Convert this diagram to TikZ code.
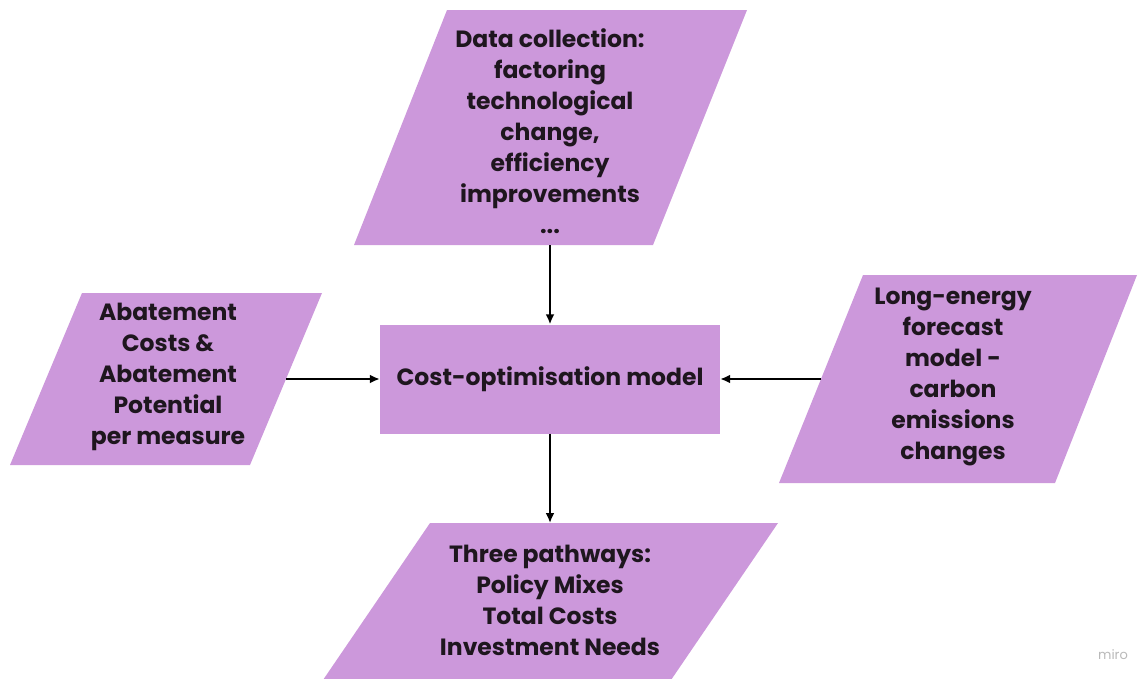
\documentclass[tikz,border=0pt]{standalone}
\usepackage{fontspec}
\setmainfont{Poppins}
\usetikzlibrary{arrows.meta}
\definecolor{boxfill}{RGB}{204,152,219}
\definecolor{ink}{RGB}{30,22,30}
\definecolor{logogray}{RGB}{185,185,185}
\begin{document}
\begin{tikzpicture}[x=1pt,y=-1pt,
  shapefill/.style={fill=boxfill, draw=none},
  boxtext/.style={font=\bfseries\fontsize{23.5}{31}\selectfont, text=ink, align=center, inner sep=0pt},
  arr/.style={-{Latex[length=10pt,width=9pt]}, line width=2pt, black}]
\useasboundingbox (0,0) rectangle (1145,678);

% input: data collection (top)
\path[shapefill] (447,10) -- (747,10) -- (653,245) -- (354,245) -- cycle;
\coordinate (dataB) at (550,245);
\node[boxtext] (data) at (550,131) {Data collection:\\factoring\\technological\\change,\\efficiency\\improvements\\...};

% input: abatement (left)
\path[shapefill] (82,293) -- (322,293) -- (250,465) -- (10,465) -- cycle;
\coordinate (abateR) at (286,379);
\node[boxtext] (abate) at (168,377) {Abatement\\Costs \&\\Abatement\\Potential\\per measure};

% input: energy forecast (right)
\path[shapefill] (863,275) -- (1137,275) -- (1055,483) -- (779,483) -- cycle;
\coordinate (forecastL) at (821,379);
\node[boxtext] (forecast) at (953,377) {Long-energy\\forecast\\model -\\carbon\\emissions\\changes};

% output: pathways (bottom)
\path[shapefill] (430,523) -- (778,523) -- (671,680) -- (323,680) -- cycle;
\coordinate (pathT) at (550,523);
\node[boxtext] (path) at (550,600) {Three pathways:\\Policy Mixes\\Total Costs\\Investment Needs};

% central model
\node[shapefill, minimum width=340pt, minimum height=109pt, inner sep=0pt] (cost) at (550,379) {};
\node[boxtext] (costtext) at (cost.center) {Cost-optimisation model};

% connectors
\draw[arr] (dataB) -- (cost);
\draw[arr] (abateR) -- (cost);
\draw[arr] (forecastL) -- (cost);
\draw[arr] (cost) -- (pathT);

% watermark
\node[font=\fontsize{13}{13}\selectfont, text=logogray] (mark) at (1113,655) {miro};
\end{tikzpicture}
\end{document}
